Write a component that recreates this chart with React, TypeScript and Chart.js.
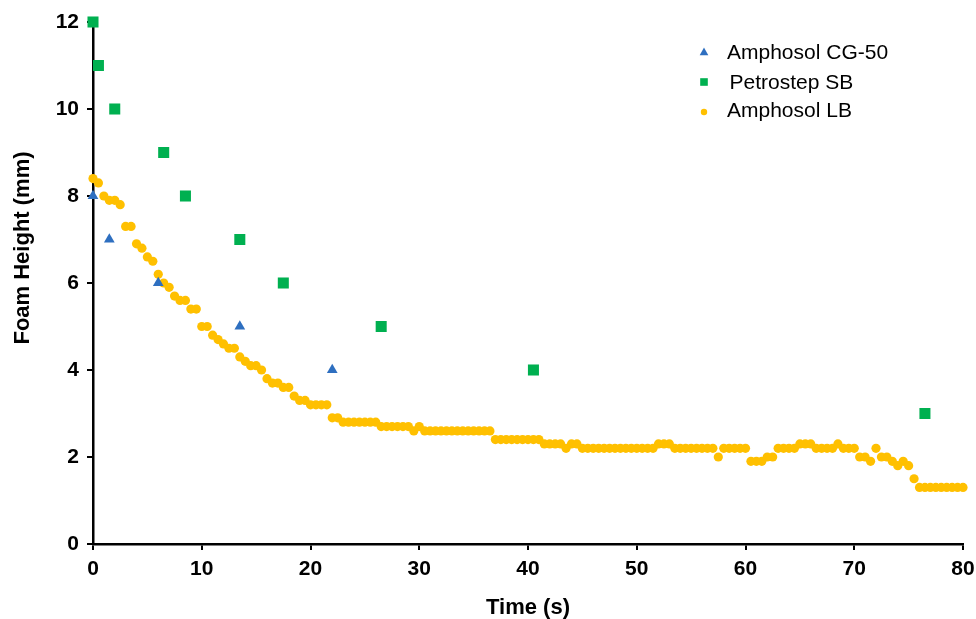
import React, { useEffect, useRef } from 'react';
import { Chart, registerables } from 'chart.js';

Chart.register(...registerables);

const FONT = "'Liberation Sans', Arial, Helvetica, sans-serif";

const seriesNames = ['Amphosol CG-50', 'Petrostep SB', 'Amphosol LB'];
const seriesColors = ['#2E6FC0', '#00B050', '#FFC000'];

const cg50Time = [0, 1.5, 6, 13.5, 22];
const cg50Height = [8, 7, 6, 5, 4];

const sbTime = [0, 0.5, 2, 6.5, 8.5, 13.5, 17.5, 26.5, 40.5, 76.5];
const sbHeight = [12, 11, 10, 9, 8, 7, 6, 5, 4, 3];

const lbTime = [
  0, 0.5, 1, 1.5, 2, 2.5, 3, 3.5, 4, 4.5, 5, 5.5, 6, 6.5, 7, 7.5, 8, 8.5, 9, 9.5,
  10, 10.5, 11, 11.5, 12, 12.5, 13, 13.5, 14, 14.5, 15, 15.5, 16, 16.5, 17, 17.5, 18, 18.5, 19, 19.5,
  20, 20.5, 21, 21.5, 22, 22.5, 23, 23.5, 24, 24.5, 25, 25.5, 26, 26.5, 27, 27.5, 28, 28.5, 29, 29.5,
  30, 30.5, 31, 31.5, 32, 32.5, 33, 33.5, 34, 34.5, 35, 35.5, 36, 36.5, 37, 37.5, 38, 38.5, 39, 39.5,
  40, 40.5, 41, 41.5, 42, 42.5, 43, 43.5, 44, 44.5, 45, 45.5, 46, 46.5, 47, 47.5, 48, 48.5, 49, 49.5,
  50, 50.5, 51, 51.5, 52, 52.5, 53, 53.5, 54, 54.5, 55, 55.5, 56, 56.5, 57, 57.5, 58, 58.5, 59, 59.5,
  60, 60.5, 61, 61.5, 62, 62.5, 63, 63.5, 64, 64.5, 65, 65.5, 66, 66.5, 67, 67.5, 68, 68.5, 69, 69.5,
  70, 70.5, 71, 71.5, 72, 72.5, 73, 73.5, 74, 74.5, 75, 75.5, 76, 76.5, 77, 77.5, 78, 78.5, 79, 79.5,
  80,
];
const lbHeight = [
  8.4, 8.3, 8.0, 7.9, 7.9, 7.8, 7.3, 7.3, 6.9, 6.8, 6.6, 6.5, 6.2, 6.0, 5.9, 5.7, 5.6, 5.6, 5.4, 5.4,
  5.0, 5.0, 4.8, 4.7, 4.6, 4.5, 4.5, 4.3, 4.2, 4.1, 4.1, 4.0, 3.8, 3.7, 3.7, 3.6, 3.6, 3.4, 3.3, 3.3,
  3.2, 3.2, 3.2, 3.2, 2.9, 2.9, 2.8, 2.8, 2.8, 2.8, 2.8, 2.8, 2.8, 2.7, 2.7, 2.7, 2.7, 2.7, 2.7, 2.6,
  2.7, 2.6, 2.6, 2.6, 2.6, 2.6, 2.6, 2.6, 2.6, 2.6, 2.6, 2.6, 2.6, 2.6, 2.4, 2.4, 2.4, 2.4, 2.4, 2.4,
  2.4, 2.4, 2.4, 2.3, 2.3, 2.3, 2.3, 2.2, 2.3, 2.3, 2.2, 2.2, 2.2, 2.2, 2.2, 2.2, 2.2, 2.2, 2.2, 2.2,
  2.2, 2.2, 2.2, 2.2, 2.3, 2.3, 2.3, 2.2, 2.2, 2.2, 2.2, 2.2, 2.2, 2.2, 2.2, 2.0, 2.2, 2.2, 2.2, 2.2,
  2.2, 1.9, 1.9, 1.9, 2.0, 2.0, 2.2, 2.2, 2.2, 2.2, 2.3, 2.3, 2.3, 2.2, 2.2, 2.2, 2.2, 2.3, 2.2, 2.2,
  2.2, 2.0, 2.0, 1.9, 2.2, 2.0, 2.0, 1.9, 1.8, 1.9, 1.8, 1.5, 1.3, 1.3, 1.3, 1.3, 1.3, 1.3, 1.3, 1.3,
  1.3,
];

const xTitle = 'Time (s)';
const yTitle = 'Foam Height (mm)';
const xMin = 0, xMax = 80, xStep = 10;
const yMin = 0, yMax = 12, yStep = 2;

const pts = (xs: number[], ys: number[]) => xs.map((x, i) => ({ x, y: ys[i] }));

const overlayPlugin = {
  id: 'overlay',
  afterDraw(chart: any) {
    const ctx = chart.ctx as CanvasRenderingContext2D;
    ctx.save();
    ctx.fillStyle = '#000';
    ctx.font = `bold 22px ${FONT}`;
    ctx.textAlign = 'center';
    ctx.textBaseline = 'middle';
    ctx.translate(23, 248);
    ctx.rotate(-Math.PI / 2);
    ctx.fillText(yTitle, 0, 0);
    ctx.restore();

    ctx.save();
    ctx.font = `21px ${FONT}`;
    ctx.textAlign = 'left';
    ctx.textBaseline = 'alphabetic';
    const rows = [
      { y: 52, base: 58.5, tx: 727 },
      { y: 82, base: 89.3, tx: 729.5 },
      { y: 112, base: 117.3, tx: 727 },
    ];
    const mx = 704;
    ctx.fillStyle = seriesColors[0];
    ctx.beginPath();
    ctx.moveTo(mx, rows[0].y - 4.5);
    ctx.lineTo(mx + 4.3, rows[0].y + 3.2);
    ctx.lineTo(mx - 4.3, rows[0].y + 3.2);
    ctx.closePath();
    ctx.fill();
    ctx.fillStyle = seriesColors[1];
    ctx.fillRect(mx - 3.8, rows[1].y - 3.8, 7.6, 7.6);
    ctx.fillStyle = seriesColors[2];
    ctx.beginPath();
    ctx.arc(mx, rows[2].y, 3.2, 0, Math.PI * 2);
    ctx.fill();

    ctx.fillStyle = '#000';
    rows.forEach((r, i) => ctx.fillText(seriesNames[i], r.tx, r.base));
    ctx.restore();
  },
};

export default function App() {
  const canvasRef = useRef<HTMLCanvasElement | null>(null);

  useEffect(() => {
    document.body.style.margin = '0';
    const canvas = canvasRef.current;
    if (!canvas) return;

    const axisCommon = {
      type: 'linear' as const,
      grid: {
        display: true,
        drawOnChartArea: false,
        drawTicks: true,
        tickLength: 6,
        color: '#000',
        lineWidth: 2,
      },
      border: { display: true, color: '#000', width: 2.5 },
    };

    const chart = new Chart(canvas, {
      type: 'scatter',
      data: {
        datasets: [
          {
            label: seriesNames[0],
            data: pts(cg50Time, cg50Height),
            pointStyle: 'triangle',
            pointRadius: 6.2,
            pointBackgroundColor: seriesColors[0],
            pointBorderWidth: 0,
            pointBorderColor: seriesColors[0],
            clip: false,
          },
          {
            label: seriesNames[1],
            data: pts(sbTime, sbHeight),
            pointStyle: 'rect',
            pointRadius: 7.8,
            pointBackgroundColor: seriesColors[1],
            pointBorderWidth: 0,
            pointBorderColor: seriesColors[1],
            clip: false,
          },
          {
            label: seriesNames[2],
            data: pts(lbTime, lbHeight),
            pointStyle: 'circle',
            pointRadius: 4.6,
            pointBackgroundColor: seriesColors[2],
            pointBorderWidth: 0,
            pointBorderColor: seriesColors[2],
            clip: false,
          },
        ] as any,
      },
      options: {
        animation: false,
        responsive: false,
        maintainAspectRatio: false,
        devicePixelRatio: 1,
        layout: { padding: { top: 22, right: 13, left: 0, bottom: 0 } },
        plugins: {
          legend: { display: false },
          tooltip: { enabled: false },
        },
        scales: {
          x: {
            ...axisCommon,
            min: xMin,
            max: xMax,
            ticks: {
              stepSize: xStep,
              color: '#000',
              padding: 7,
              font: { family: FONT, size: 21, weight: 'bold' },
            },
            title: {
              display: true,
              text: xTitle,
              color: '#000',
              font: { family: FONT, size: 22, weight: 'bold', lineHeight: 1 },
              padding: { top: 0, bottom: 0 },
            },
            afterFit: (scale: any) => {
              scale.height = 75;
              scale.paddingLeft = 0;
              scale.paddingRight = 0;
            },
          },
          y: {
            ...axisCommon,
            min: yMin,
            max: yMax,
            ticks: {
              stepSize: yStep,
              color: '#000',
              padding: 8,
              font: { family: FONT, size: 21, weight: 'bold' },
            },
            title: { display: false },
            afterFit: (scale: any) => {
              scale.width = 93;
              scale.paddingTop = 0;
              scale.paddingBottom = 0;
            },
          },
        } as any,
      },
      plugins: [overlayPlugin],
    });

    return () => chart.destroy();
  }, []);

  return (
    <div style={{ width: 976, height: 619 }}>
      <canvas ref={canvasRef} width={976} height={619} style={{ display: 'block' }} />
    </div>
  );
}
